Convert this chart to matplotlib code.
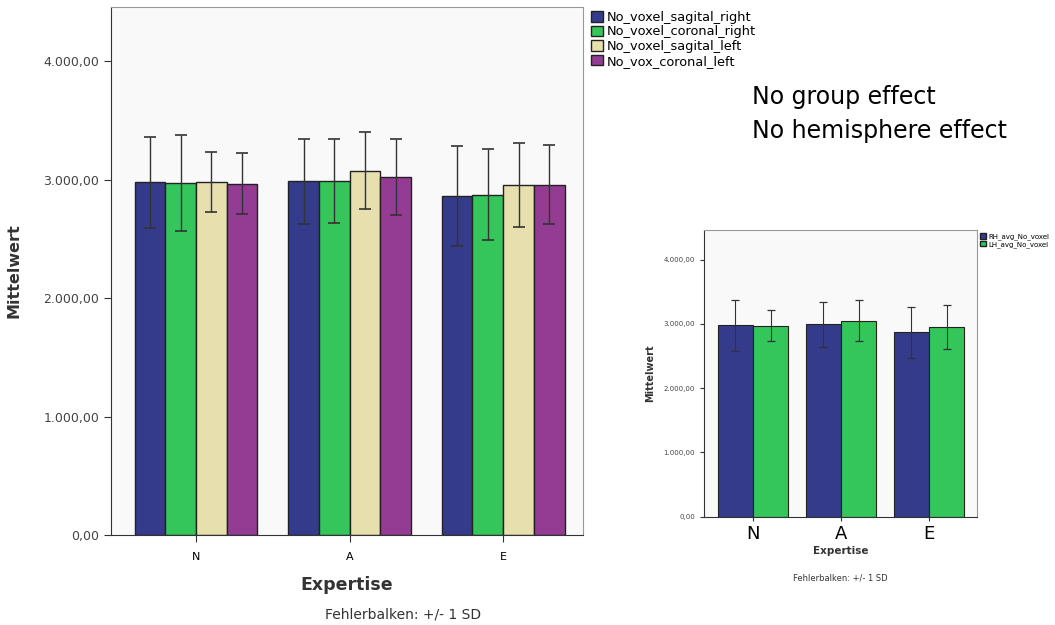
import numpy as np
import matplotlib.pyplot as plt
from matplotlib.patches import Patch
from matplotlib.ticker import FuncFormatter

groups = ["N", "A", "E"]

# main chart: four measures
main_names = ["No_voxel_sagital_right", "No_voxel_coronal_right",
              "No_voxel_sagital_left", "No_vox_coronal_left"]
sag_right = [2980, 2988, 2864]
cor_right = [2971, 2991, 2875]
sag_left = [2983, 3078, 2955]
cor_left = [2969, 3025, 2960]
sag_right_sd = [386, 360, 420]
cor_right_sd = [405, 352, 382]
sag_left_sd = [255, 322, 352]
cor_left_sd = [260, 321, 331]

# small chart: hemisphere averages
small_names = ["RH_avg_No_voxel", "LH_avg_No_voxel"]
rh_avg = [2977, 2992, 2868]
lh_avg = [2972, 3050, 2956]
rh_sd = [396, 355, 400]
lh_sd = [246, 321, 342]

colors = ["#353b8b", "#34c65a", "#e7dfae", "#943c93"]
bg = "#f9f9f9"


def de_fmt(v, pos):
    s = f"{v:,.2f}"
    return s.replace(",", "X").replace(".", ",").replace("X", ".")


def style_axes(ax, tick_fs, xtick_fs):
    ax.set_facecolor(bg)
    ax.set_ylim(0, 4460)
    ax.set_yticks([0, 1000, 2000, 3000, 4000])
    ax.yaxis.set_major_formatter(FuncFormatter(de_fmt))
    ax.set_xticks(range(len(groups)))
    ax.set_xticklabels(groups)
    ax.tick_params(axis="y", labelsize=tick_fs, labelcolor="#444444", length=5, color="#333333")
    ax.tick_params(axis="x", labelsize=xtick_fs, length=5, color="#333333")
    for s in ["top", "right"]:
        ax.spines[s].set_color("#999999")
    for s in ["left", "bottom"]:
        ax.spines[s].set_color("#333333")
    ax.grid(False)


fig = plt.figure(figsize=(10.55, 6.25), dpi=100)

# ---- main chart
ax = fig.add_axes([0.1052, 0.144, 0.4474, 0.8448])
x = np.arange(len(groups))
w = 0.2
vals = [sag_right, cor_right, sag_left, cor_left]
sds = [sag_right_sd, cor_right_sd, sag_left_sd, cor_left_sd]
for i, (v, sd) in enumerate(zip(vals, sds)):
    ax.bar(x + (i - 1.5) * w, v, w, color=colors[i], edgecolor="#222222", linewidth=1.0,
           yerr=sd, error_kw=dict(ecolor="#333333", elinewidth=1.0, capsize=4, capthick=1.2))
ax.set_xlim(-0.554, 2.52)
style_axes(ax, 9, 8)
ax.tick_params(axis="x", pad=7)
ax.set_xlabel("Expertise", fontsize=12.5, fontweight="bold", color="#333333", labelpad=10)
ax.set_ylabel("Mittelwert", fontsize=11.5, fontweight="bold", color="#333333")
ax.yaxis.set_label_coords(-0.19, 0.5)
handles = [Patch(facecolor=colors[i], edgecolor="#222222", label=main_names[i]) for i in range(4)]
fig.legend(handles=handles, loc="upper left", bbox_to_anchor=(0.552, 0.997), frameon=False,
           fontsize=9.3, handlelength=0.9, handleheight=0.9, handletextpad=0.3,
           labelspacing=0.12, borderpad=0.2)
fig.text(403 / 1055, 1 - 614 / 625, "Fehlerbalken: +/- 1 SD", ha="center", va="center",
         fontsize=10, color="#333333")

# ---- small chart
ax2 = fig.add_axes([0.6673, 0.1733, 0.2588, 0.4587])
w2 = 0.4
for i, (v, sd) in enumerate(zip([rh_avg, lh_avg], [rh_sd, lh_sd])):
    ax2.bar(x + (i - 0.5) * w2, v, w2, color=colors[i], edgecolor="#222222", linewidth=0.8,
            yerr=sd, error_kw=dict(ecolor="#333333", elinewidth=0.8, capsize=3, capthick=0.9))
ax2.set_xlim(-0.556, 2.545)
style_axes(ax2, 5, 13)
ax2.tick_params(axis="y", length=3)
ax2.tick_params(axis="x", length=3, pad=3)
ax2.set_xlabel("Expertise", fontsize=7.5, fontweight="bold", color="#333333", labelpad=2)
ax2.set_ylabel("Mittelwert", fontsize=7, fontweight="bold", color="#333333", labelpad=6)
handles2 = [Patch(facecolor=colors[i], edgecolor="#222222", label=small_names[i]) for i in range(2)]
fig.legend(handles=handles2, loc="upper left", bbox_to_anchor=(0.924, 0.635), frameon=False,
           fontsize=5, handlelength=0.9, handleheight=0.9, handletextpad=0.3,
           labelspacing=0.1, borderpad=0.2)
fig.text(840 / 1055, 1 - 578 / 625, "Fehlerbalken: +/- 1 SD", ha="center", va="center",
         fontsize=6, color="#333333")

fig.text(752 / 1055, 1 - 97 / 625, "No group effect", ha="left", va="center", fontsize=17)
fig.text(752 / 1055, 1 - 131 / 625, "No hemisphere effect", ha="left", va="center", fontsize=17)

fig.savefig("out.png", dpi=100, facecolor="white")
